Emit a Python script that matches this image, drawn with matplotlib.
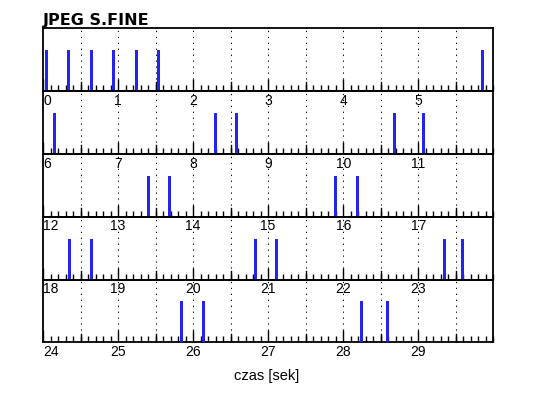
import matplotlib
matplotlib.use("Agg")
import matplotlib.pyplot as plt
import numpy as np

title = "JPEG S.FINE"
xlabel = "czas [sek]"
row_seconds = 6
n_rows = 5
# event times in seconds
events = [0.04, 0.34, 0.65, 0.94, 1.25, 1.54, 5.86,
          6.155, 8.30, 8.58, 10.68, 11.07,
          13.40, 13.69, 15.90, 16.19,
          18.355, 18.65, 20.835, 21.11, 23.355, 23.595,
          25.85, 26.14, 28.25, 28.59]
bar_height = 0.65

fig = plt.figure(figsize=(5.38, 3.98), dpi=100)
left, right = 43 / 538, 493.3 / 538
top, bottom = 1 - 28.3 / 398, 1 - 342.3 / 398
h = (top - bottom) / n_rows
blue = "#2424ee"

for r in range(n_rows):
    ax = fig.add_axes([left, top - (r + 1) * h, right - left, h])
    ax.patch.set_alpha(0)
    t0 = r * row_seconds
    ev = [e - t0 for e in events if t0 <= e < t0 + row_seconds]
    for g in np.arange(0.5, row_seconds, 0.5):
        ax.axvline(g, color="black", lw=0.75, ls=(0, (1.2, 4.5)), zorder=1)
    ax.bar(ev, [bar_height] * len(ev), width=0.04, color=blue, zorder=3, linewidth=0)
    ax.set_xlim(0, row_seconds)
    ax.set_ylim(0, 1)
    ax.set_yticks([])
    ticks = np.arange(0, row_seconds)
    ax.set_xticks(ticks, [str(t0 + t) for t in ticks])
    ax.set_xticks(np.arange(0, row_seconds + 0.01, 0.1), minor=True)
    ax.tick_params(axis="x", which="major", direction="in", length=9, width=1, pad=2,
                   labelsize=10, labelfontfamily="Liberation Sans")
    ax.tick_params(axis="x", which="minor", direction="in", length=4, width=1)
    # half-second major-length ticks
    for hs in np.arange(0.5, row_seconds, 1.0):
        ax.plot([hs, hs], [0, 0.14], color="black", lw=1, zorder=2)
    labs = ax.get_xticklabels()
    labs[0].set_horizontalalignment("left")
    for s in ax.spines.values():
        s.set_linewidth(1.3)

fig.text(left, 1 - 25 / 398, title, fontsize=11.5, fontweight="bold",
         ha="left", va="baseline", family="DejaVu Sans")
fig.text((left + right) / 2 - 2 / 538, 1 - 380 / 398, xlabel, fontsize=10.5,
         ha="center", va="baseline", family="Liberation Sans")

fig.savefig("out.png", dpi=100)
